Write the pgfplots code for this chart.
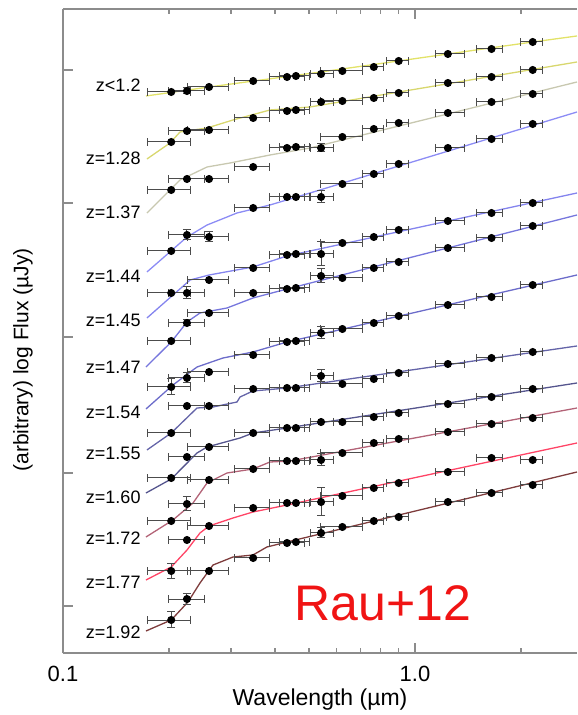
\documentclass[border=0pt]{standalone}
\usepackage{fontspec}
\setmainfont{Liberation Sans}
\usepackage{pgfplots}
\pgfplotsset{compat=1.18}

\definecolor{c1}{HTML}{E2E268}
\definecolor{c2}{HTML}{D8D76E}
\definecolor{c3}{HTML}{C8C8B0}
\definecolor{c4}{HTML}{8C8CF5}
\definecolor{c5}{HTML}{8484EE}
\definecolor{c6}{HTML}{7676DD}
\definecolor{c7}{HTML}{6C6CCA}
\definecolor{c8}{HTML}{6464A8}
\definecolor{c9}{HTML}{55558E}
\definecolor{c10}{HTML}{B36377}
\definecolor{c11}{HTML}{FF4466}
\definecolor{c12}{HTML}{7E3C3C}
\definecolor{axgray}{HTML}{8C8C8C}
\definecolor{raured}{HTML}{F01414}

\pgfplotsset{
  obs/.style={only marks, mark=*, mark size=1.8pt, black,
    error bars/.cd, x dir=both, x explicit, y dir=both, y explicit,
    error bar style={line width=0.5pt, black!70},
    error mark options={rotate=90, mark size=2pt, line width=0.5pt, black!70}},
  sed/.style={line width=0.65pt, no markers},
}

\begin{document}
\begin{tikzpicture}
\begin{axis}[
  scale only axis, width=257pt, height=322pt,
  xmode=log, xmin=0.1, xmax=2.886, ymin=47, ymax=691,
  axis x line*=box, axis y line*=left,
  axis line style={axgray, line width=0.6pt},
  tick style={axgray, line width=0.6pt},
  tick align=inside,
  major tick length=5pt, minor tick length=2.5pt,
  xtick={0.1,1}, xticklabels={0.1,1.0},
  minor xtick={0.2,0.3,0.4,0.5,0.6,0.7,0.8,0.9,2},
  ytick={94,227,363,497,630}, yticklabels={},
  xticklabel style={yshift=-3pt, font=\fontsize{11}{13}\selectfont},
  /pgf/number format/assume math mode=true,
  xlabel={Wavelength (µm)},
  ylabel={(arbitrary) log Flux (µJy)},
  every axis x label/.style={at={([yshift=-23.5pt]axis description cs:0.5,0)}, anchor=center, font=\fontsize{11.5}{14}\selectfont},
  every axis y label/.style={at={([xshift=-20pt]axis description cs:0,0.455)}, rotate=90, anchor=center, font=\fontsize{10.5}{12}\selectfont},
  clip=true,
]
% ---- model SEDs ----
\addplot[sed, c1] coordinates {(0.1721,604) (0.26,613) (0.54,628) (1.24,646) (2.16,658) (2.886,664)};
\addplot[sed, c2] coordinates {(0.1732,541) (0.2014,557) (0.2150,568) (0.2566,572) (0.3041,580) (0.3874,590) (0.5031,593) (2.886,638)};
\addplot[sed, c3] coordinates {(0.1732,487) (0.2150,520) (0.2566,533) (0.2982,537) (0.3874,545) (0.5031,552) (2.886,618)};
\addplot[sed, c4] coordinates {(0.1732,428) (0.2251,463) (0.2566,475) (0.3122,487) (0.3874,495) (0.5031,507) (2.886,588)};
\addplot[sed, c5] coordinates {(0.1732,382) (0.2296,420) (0.2600,425) (0.3465,433) (0.4330,444) (2.886,507)};
\addplot[sed, c6] coordinates {(0.1721,333) (0.2030,358) (0.2251,378) (0.2450,387) (0.2924,392) (0.3465,402) (0.4330,411) (2.886,485)};
\addplot[sed, c7] coordinates {(0.1721,291) (0.2053,315) (0.2403,333) (0.2848,342) (0.3465,348) (0.4330,358) (2.886,425)};
\addplot[sed, c8] coordinates {(0.1732,250) (0.2030,267) (0.2403,292) (0.2668,293) (0.3122,298) (0.3184,303) (0.3465,309) (0.4330,312) (2.886,354)};
\addplot[sed, c9] coordinates {(0.1721,207) (0.2030,221) (0.2403,247) (0.2566,253) (0.3184,262) (0.3465,267) (0.4330,272) (2.886,317)};
\addplot[sed, c10] coordinates {(0.1721,163) (0.2053,180) (0.2341,197) (0.2566,217) (0.2924,227) (0.3465,231) (0.3874,238) (0.4414,239) (2.886,292)};
\addplot[sed, c11] coordinates {(0.1721,120) (0.2030,133) (0.2251,150) (0.2450,167) (0.2600,174) (0.3041,182) (0.3465,188) (0.4330,195) (2.886,257)};
\addplot[sed, c12] coordinates {(0.1721,69) (0.2030,80) (0.2265,98) (0.2450,117) (0.2668,135) (0.3041,143) (0.3465,145) (0.3797,153) (0.4330,158) (2.886,228)};

% ---- photometry (UVOT + GROND); xm/xp are the filter widths ----
\addplot[obs] table[x=lam, y=y, x error minus=xm, x error plus=xp, y error=ey] {
lam   xm    xp    y   ey
0.203 0.029 0.028 608 0
0.225 0.025 0.027 609 3
0.260 0.034 0.036 613 0
0.347 0.039 0.038 619 0
0.433 0.046 0.054 623 0
0.459 0.046 0.044 624 0
0.541 0.035 0.044 626 0
0.622 0.082 0.088 629 0
0.764 0.054 0.051 633 0
0.899 0.069 0.061 639 0
1.24  0.10  0.14  646 0
1.65  0.15  0.12  651 0
2.16  0.16  0.14  658 0
};
\addplot[obs] table[x=lam, y=y, x error minus=xm, x error plus=xp, y error=ey] {
lam   xm    xp    y   ey
0.203 0.029 0.028 558 0
0.225 0.025 0.027 569 0
0.260 0.034 0.036 570 0
0.347 0.039 0.038 582 0
0.433 0.046 0.054 589 0
0.459 0.046 0.044 590 0
0.541 0.035 0.044 598 0
0.622 0.082 0.088 599 0
0.764 0.054 0.051 602 0
0.899 0.069 0.061 607 0
1.24  0.10  0.14  617 0
1.65  0.15  0.12  623 0
2.16  0.16  0.14  630 0
};
\addplot[obs] table[x=lam, y=y, x error minus=xm, x error plus=xp, y error=ey] {
lam   xm    xp    y   ey
0.203 0.029 0.028 510 0
0.225 0.025 0.027 521 0
0.260 0.034 0.036 521 0
0.347 0.039 0.038 533 0
0.433 0.046 0.054 552 0
0.459 0.046 0.044 553 0
0.541 0.035 0.044 552 4
0.622 0.082 0.088 563 0
0.764 0.054 0.051 571 0
0.899 0.069 0.061 577 0
1.24  0.10  0.14  587 0
1.65  0.15  0.12  598 0
2.16  0.16  0.14  606 0
};
\addplot[obs] table[x=lam, y=y, x error minus=xm, x error plus=xp, y error=ey] {
lam   xm    xp    y   ey
0.203 0.029 0.028 449 0
0.225 0.025 0.027 465 5
0.260 0.034 0.036 463 5
0.347 0.039 0.038 492 0
0.433 0.046 0.054 503 0
0.459 0.046 0.044 503 0
0.541 0.035 0.044 503 6
0.622 0.082 0.088 516 0
0.764 0.054 0.051 526 0
0.899 0.069 0.061 536 0
1.24  0.10  0.14  552 0
1.65  0.15  0.12  561 0
2.16  0.16  0.14  576 0
};
\addplot[obs] table[x=lam, y=y, x error minus=xm, x error plus=xp, y error=ey] {
lam   xm    xp    y   ey
0.203 0.029 0.028 407 0
0.225 0.025 0.027 407 6
0.260 0.034 0.036 420 0
0.347 0.039 0.038 432 0
0.433 0.046 0.054 445 0
0.459 0.046 0.044 446 0
0.541 0.035 0.044 446 12
0.622 0.082 0.088 457 0
0.764 0.054 0.051 463 0
0.899 0.069 0.061 470 0
1.24  0.10  0.14  479 0
1.65  0.15  0.12  487 0
2.16  0.16  0.14  497 0
};
\addplot[obs] table[x=lam, y=y, x error minus=xm, x error plus=xp, y error=ey] {
lam   xm    xp    y   ey
0.203 0.029 0.028 359 0
0.225 0.025 0.027 377 3
0.260 0.034 0.036 387 0
0.347 0.039 0.038 407 0
0.433 0.046 0.054 411 0
0.459 0.046 0.044 412 0
0.541 0.035 0.044 424 7
0.622 0.082 0.088 422 0
0.764 0.054 0.051 432 0
0.899 0.069 0.061 438 0
1.24  0.10  0.14  452 0
1.65  0.15  0.12  462 0
2.16  0.16  0.14  474 0
};
\addplot[obs] table[x=lam, y=y, x error minus=xm, x error plus=xp, y error=ey] {
lam   xm    xp    y   ey
0.203 0.029 0.028 313 8
0.225 0.025 0.027 322 5
0.260 0.034 0.036 328 0
0.347 0.039 0.038 345 0
0.433 0.046 0.054 358 0
0.459 0.046 0.044 359 0
0.541 0.035 0.044 367 6
0.622 0.082 0.088 371 0
0.764 0.054 0.051 377 0
0.899 0.069 0.061 384 0
1.24  0.10  0.14  395 0
1.65  0.15  0.12  403 0
2.16  0.16  0.14  415 0
};
\addplot[obs] table[x=lam, y=y, x error minus=xm, x error plus=xp, y error=ey] {
lam   xm    xp    y   ey
0.203 0.029 0.028 267 0
0.225 0.025 0.027 294 0
0.260 0.034 0.036 294 0
0.347 0.039 0.038 311 0
0.433 0.046 0.054 312 0
0.459 0.046 0.044 312 0
0.541 0.035 0.044 324 6
0.622 0.082 0.088 316 0
0.764 0.054 0.051 321 0
0.899 0.069 0.061 327 0
1.24  0.10  0.14  336 0
1.65  0.15  0.12  342 0
2.16  0.16  0.14  348 0
};
\addplot[obs] table[x=lam, y=y, x error minus=xm, x error plus=xp, y error=ey] {
lam   xm    xp    y   ey
0.203 0.029 0.028 222 0
0.225 0.025 0.027 243 0
0.260 0.034 0.036 253 0
0.347 0.039 0.038 267 0
0.433 0.046 0.054 272 0
0.459 0.046 0.044 272 0
0.541 0.035 0.044 278 0
0.622 0.082 0.088 278 0
0.764 0.054 0.051 283 0
0.899 0.069 0.061 287 0
1.24  0.10  0.14  296 0
1.65  0.15  0.12  303 0
2.16  0.16  0.14  311 0
};
\addplot[obs] table[x=lam, y=y, x error minus=xm, x error plus=xp, y error=ey] {
lam   xm    xp    y   ey
0.203 0.029 0.028 179 0
0.225 0.025 0.027 196 7
0.260 0.034 0.036 220 0
0.347 0.039 0.038 231 0
0.433 0.046 0.054 239 0
0.459 0.046 0.044 239 0
0.541 0.035 0.044 240 6
0.622 0.082 0.088 247 0
0.764 0.054 0.051 257 0
0.899 0.069 0.061 261 0
1.24  0.10  0.14  268 0
1.65  0.15  0.12  276 0
2.16  0.16  0.14  282 0
};
\addplot[obs] table[x=lam, y=y, x error minus=xm, x error plus=xp, y error=ey] {
lam   xm    xp    y   ey
0.203 0.029 0.028 129 8
0.225 0.025 0.027 160 0
0.260 0.034 0.036 174 0
0.347 0.039 0.038 192 0
0.433 0.046 0.054 197 0
0.459 0.046 0.044 197 0
0.541 0.035 0.044 198 14
0.622 0.082 0.088 204 0
0.764 0.054 0.051 212 0
0.899 0.069 0.061 217 0
1.24  0.10  0.14  228 0
1.65  0.15  0.12  242 0
2.16  0.16  0.14  240 0
};
\addplot[obs] table[x=lam, y=y, x error minus=xm, x error plus=xp, y error=ey] {
lam   xm    xp    y   ey
0.203 0.029 0.028 80  8
0.225 0.025 0.027 101 6
0.260 0.034 0.036 129 0
0.347 0.039 0.038 142 0
0.433 0.046 0.054 157 0
0.459 0.046 0.044 158 0
0.541 0.035 0.044 167 5
0.622 0.082 0.088 173 0
0.764 0.054 0.051 179 0
0.899 0.069 0.061 183 0
1.24  0.10  0.14  198 0
1.65  0.15  0.12  207 0
2.16  0.16  0.14  215 0
};

% ---- redshift labels ----
\begin{scope}[every node/.style={anchor=east, font=\fontsize{9}{10}\selectfont, inner sep=0pt}]
\node at (axis cs:0.1665,615) {z<1.2};
\node at (axis cs:0.1665,542) {z=1.28};
\node at (axis cs:0.1665,488) {z=1.37};
\node at (axis cs:0.1665,424) {z=1.44};
\node at (axis cs:0.1665,380) {z=1.45};
\node at (axis cs:0.1665,333) {z=1.47};
\node at (axis cs:0.1665,288) {z=1.54};
\node at (axis cs:0.1665,247) {z=1.55};
\node at (axis cs:0.1665,203) {z=1.60};
\node at (axis cs:0.1665,162) {z=1.72};
\node at (axis cs:0.1665,118) {z=1.77};
\node at (axis cs:0.1665,68) {z=1.92};
\end{scope}
\node[text=raured, font=\fontsize{25}{28}\selectfont] at (axis cs:0.811,97) {Rau+12};
\end{axis}
\pgfresetboundingbox
\useasboundingbox (-31.5pt,-31pt) rectangle (257pt,326.5pt);
\end{tikzpicture}
\end{document}
